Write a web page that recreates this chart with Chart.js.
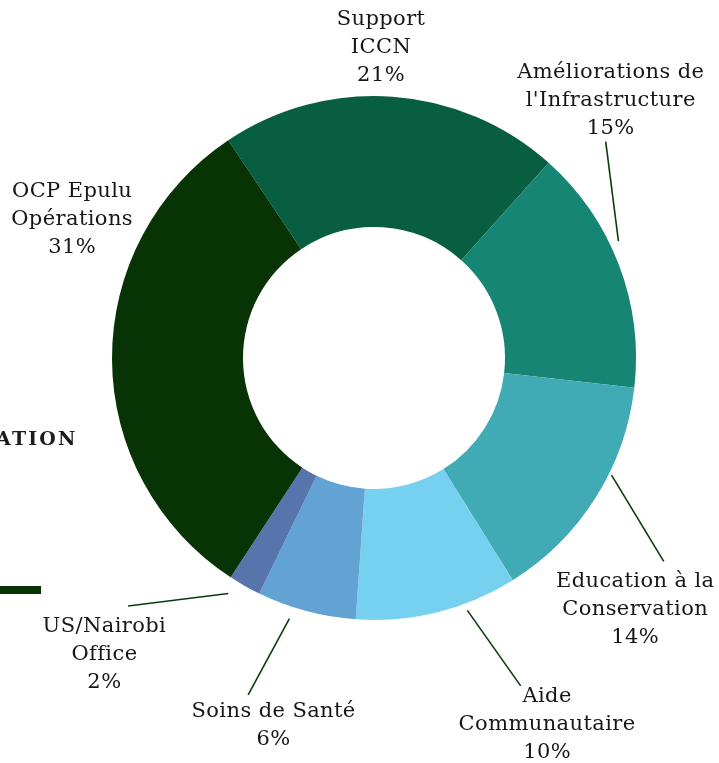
<!DOCTYPE html>
<html>
<head>
<meta charset="utf-8">
<script src="https://cdn.jsdelivr.net/npm/chart.js@4.4.0/dist/chart.umd.min.js"></script>
<style>
  html, body { margin: 0; padding: 0; background: #fff; }
  #wrap { position: relative; width: 719px; height: 763px; overflow: hidden; }
  #side-title { position: absolute; left: -4px; top: 427px; font: bold 19px "DejaVu Serif", serif; letter-spacing: 2.2px; color: #1c1c1c; }
  #side-bar { position: absolute; left: 0; top: 586px; width: 41px; height: 8px; background: #073305; }
</style>
</head>
<body>
<div id="wrap">
  <div id="side-title">ATION</div>
  <div id="side-bar"></div>
  <canvas id="donut" width="719" height="763"></canvas>
</div>
<script>
// budget split (percent), clockwise starting from the top slice
const categories = [
  ['Support', 'ICCN'],
  ['Améliorations de', "l'Infrastructure"],
  ['Education à la', 'Conservation'],
  ['Aide', 'Communautaire'],
  ['Soins de Santé'],
  ['US/Nairobi', 'Office'],
  ['OCP Epulu', 'Opérations']
];
const shares = [21.0, 15.2, 14.3, 10.0, 6.1, 2.0, 31.4];
const sliceColors = ['#085e40', '#178574', '#40abb5', '#76d0f0', '#62a3d3', '#5874ac', '#073305'];

// label placement: angle offset from slice middle (deg) and distance (x outer radius)
// line: [start offset, start dist, end offset, end dist] or null
const labelLayout = [
  { a: -2.7, d: 1.187, line: null },
  { a: -26.6, d: 1.336, line: [-4.7, 1.034, -22.2, 1.21] },
  { a: 11.7, d: 1.385, line: [-6.0, 1.011, 2.8, 1.351] },
  { a: -11.3, d: 1.546, line: [-6.3, 1.027, -10.1, 1.371] },
  { a: 0.3, d: 1.454, line: [3.0, 1.046, 5.5, 1.373] },
  { a: 12.7, d: 1.53, line: [2.2, 1.057, 15.2, 1.333] },
  { a: 24.9, d: 1.267, line: null }
];

const outsideLabels = {
  id: 'outsideLabels',
  afterDatasetsDraw(chart) {
    const ctx = chart.ctx;
    const arcs = chart.getDatasetMeta(0).data;
    const lh = 28;
    ctx.save();
    arcs.forEach((arc, i) => {
      const { x, y, startAngle, endAngle, outerRadius } = arc.getProps(['x', 'y', 'startAngle', 'endAngle', 'outerRadius'], true);
      const mid = (startAngle + endAngle) / 2;
      const pt = (off, dist) => {
        const ang = mid + off * Math.PI / 180;
        return [x + Math.cos(ang) * outerRadius * dist, y + Math.sin(ang) * outerRadius * dist];
      };
      const lay = labelLayout[i];
      if (lay.line) {
        const p1 = pt(lay.line[0], lay.line[1]);
        const p2 = pt(lay.line[2], lay.line[3]);
        ctx.strokeStyle = '#0b3d0b';
        ctx.lineWidth = 1.6;
        ctx.beginPath();
        ctx.moveTo(p1[0], p1[1]);
        ctx.lineTo(p2[0], p2[1]);
        ctx.stroke();
      }
      const lines = categories[i].concat([Math.round(shares[i]) + '%']);
      const c = pt(lay.a, lay.d);
      ctx.fillStyle = '#161616';
      ctx.font = '21px "DejaVu Serif", serif';
      ctx.letterSpacing = '0.4px';
      ctx.textAlign = 'center';
      ctx.textBaseline = 'middle';
      const y0 = c[1] - (lines.length - 1) * lh / 2;
      lines.forEach((t, k) => ctx.fillText(t, c[0], y0 + k * lh));
    });
    ctx.restore();
  }
};

new Chart(document.getElementById('donut').getContext('2d'), {
  type: 'doughnut',
  data: {
    labels: categories,
    datasets: [{
      data: shares,
      backgroundColor: sliceColors,
      borderWidth: 0
    }]
  },
  options: {
    responsive: false,
    animation: false,
    rotation: -33.8,
    cutout: '50%',
    layout: { padding: { top: 96, bottom: 143, left: 112, right: 83 } },
    plugins: {
      legend: { display: false },
      tooltip: { enabled: false }
    }
  },
  plugins: [outsideLabels]
});
</script>
</body>
</html>
